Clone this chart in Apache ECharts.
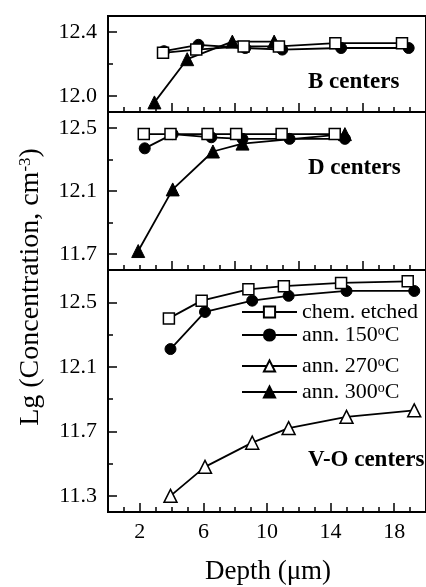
<!DOCTYPE html>
<html><head><meta charset="utf-8">
<script src="https://cdn.jsdelivr.net/npm/echarts@6/dist/echarts.min.js"></script>
<style>html,body{margin:0;padding:0;background:#fff}#c{width:426px;height:587px}</style>
</head><body><div id="c"></div>
<script>
// ---- data (depth in µm, Lg concentration) ----
const bChem   = [[3.46,12.27],[5.55,12.29],[8.53,12.31],[10.75,12.31],[14.3,12.33],[18.49,12.33]];
const b150    = [[3.52,12.28],[5.69,12.32],[8.63,12.30],[10.96,12.29],[14.66,12.30],[18.91,12.30]];
const b300    = [[2.92,11.96],[4.98,12.23],[7.82,12.34],[10.45,12.34]];
const dChem   = [[2.25,12.46],[3.93,12.46],[6.26,12.46],[8.06,12.46],[10.92,12.46],[14.26,12.46]];
const d150    = [[2.31,12.37],[4.07,12.46],[6.5,12.44],[8.46,12.43],[11.42,12.43],[14.9,12.43]];
const d300    = [[1.9,11.72],[4.07,12.11],[6.6,12.35],[8.46,12.40],[14.9,12.46]];
const voChem  = [[3.83,12.40],[5.89,12.51],[8.83,12.58],[11.06,12.60],[14.66,12.62],[18.85,12.63]];
const vo150   = [[3.93,12.21],[6.1,12.44],[9.07,12.51],[11.36,12.54],[15.0,12.57],[19.26,12.57]];
const vo270   = [[3.93,11.30],[6.1,11.48],[9.07,11.63],[11.36,11.72],[15.0,11.79],[19.26,11.83]];

const seriesNames = ['chem. etched','ann. 150oC','ann. 270oC','ann. 300oC'];
const panelNames = ['B centers','D centers','V-O centers'];
const yRanges = [[11.9,12.5],[11.6,12.6],[11.2,12.7]];
const yMajor = [[12.0,12.4],[11.7,12.1,12.5],[11.3,11.7,12.1,12.5]];
const yMinor = [[12.2],[11.9,12.3],[11.5,11.9,12.3]];
const xLabels = [2,6,10,14,18];
const xMajorUpper = [4,8,12,16];
const xRange = [0,20];

const FONT = '"Liberation Serif","Times New Roman",serif';
const chart = echarts.init(document.getElementById('c'));

const grids = [
  {left:108, right:-11, top:16, height:96},
  {left:108, right:-11, top:112, height:158},
  {left:108, right:-11, top:270, height:242}
].map(g => Object.assign(g, {show:true, borderColor:'#000', borderWidth:2, backgroundColor:'transparent'}));

const xAxes = [], yAxes = [];
for (let i = 0; i < 3; i++) {
  const bottom = i === 2;
  const majors = bottom ? xLabels : xMajorUpper;
  xAxes.push({type:'value', gridIndex:i, position:'bottom', min:xRange[0], max:xRange[1], interval:1,
    axisLine:{show:false}, splitLine:{show:false},
    axisTick:{inside:true, length:5, lineStyle:{color:'#000', width:1.5}},
    axisLabel:{show:false}});
  xAxes.push({type:'value', gridIndex:i, position:'bottom', min:xRange[0], max:xRange[1],
    axisLine:{show:false}, splitLine:{show:false},
    axisTick:{inside:true, length:9, customValues:majors, lineStyle:{color:'#000', width:1.5}},
    axisLabel:{show:bottom, customValues:xLabels, color:'#000', fontFamily:FONT, fontSize:22, margin:9}});
  yAxes.push({type:'value', gridIndex:i, position:'left', min:yRanges[i][0], max:yRanges[i][1],
    axisLine:{show:false}, splitLine:{show:false},
    axisTick:{inside:true, length:9, customValues:yMajor[i], lineStyle:{color:'#000', width:1.5}},
    axisLabel:{customValues:yMajor[i], color:'#000', fontFamily:FONT, fontSize:22, margin:11,
      formatter:v=>v.toFixed(1)}});
  yAxes.push({type:'value', gridIndex:i, position:'left', min:yRanges[i][0], max:yRanges[i][1],
    axisLine:{show:false}, splitLine:{show:false},
    axisTick:{inside:true, length:5, customValues:yMinor[i], lineStyle:{color:'#000', width:1.5}},
    axisLabel:{show:false}});
}

const styles = {
  'chem. etched': {symbol:'rect', symbolSize:11, itemStyle:{color:'#fff', borderColor:'#000', borderWidth:1.5}},
  'ann. 150oC': {symbol:'circle', symbolSize:11, itemStyle:{color:'#000', borderColor:'#000', borderWidth:1}},
  'ann. 270oC': {symbol:'triangle', symbolSize:13, itemStyle:{color:'#fff', borderColor:'#000', borderWidth:1.5}},
  'ann. 300oC': {symbol:'triangle', symbolSize:13, itemStyle:{color:'#000', borderColor:'#000', borderWidth:1}}
};
function mk(name, data, gi, z) {
  return Object.assign({type:'line', name, data, xAxisIndex:gi*2, yAxisIndex:gi*2,
    lineStyle:{color:'#000', width:1.8}, showAllSymbol:true, animation:false, z:z||2}, styles[name]);
}
const series = [
  mk('ann. 300oC', b300, 0), mk('ann. 150oC', b150, 0), mk('chem. etched', bChem, 0, 3),
  mk('ann. 300oC', d300, 1), mk('ann. 150oC', d150, 1), mk('chem. etched', dChem, 1, 3),
  mk('chem. etched', voChem, 2, 3), mk('ann. 150oC', vo150, 2), mk('ann. 270oC', vo270, 2)
];

const legendTops = [301, 324, 355, 381];
const rich = {
  t:{fontFamily:FONT, fontSize:22, color:'#000'},
  s:{fontFamily:FONT, fontSize:14, color:'#000', verticalAlign:'top', padding:[0,0,8,0]}
};
const legends = seriesNames.map((n, k) => ({
  data:[n], orient:'vertical', left:241, top:legendTops[k], itemWidth:55, itemHeight:14, itemGap:0,
  padding:0, selectedMode:false,
  textStyle:{rich},
  formatter: name => {
    const m = name.match(/^(.*)oC$/);
    return m ? '{t|' + m[1] + '}{s|o}{t|C}' : '{t|' + name + '}';
  }
}));

const labelY = [82, 168, 460];
const graphic = panelNames.map((p, k) => ({type:'text', x:308, y:labelY[k],
  style:{text:p, fontFamily:FONT, fontSize:23, fontWeight:'bold', fill:'#000', verticalAlign:'middle'}}));
graphic.push({type:'text', x:268, y:572,
  style:{text:'Depth (\u03bcm)', fontFamily:FONT, fontSize:27, fill:'#000', align:'center', verticalAlign:'middle'}});
graphic.push({type:'text', x:31, y:287, rotation:Math.PI/2,
  style:{text:'{a|Lg (Concentration, cm}{b|-3}{a|)}', align:'center', verticalAlign:'middle',
    rich:{a:{fontFamily:FONT, fontSize:28, fill:'#000'}, b:{fontFamily:FONT, fontSize:17, fill:'#000', verticalAlign:'top', padding:[0,0,11,0]}}}});

chart.setOption({animation:false, grid:grids, xAxis:xAxes, yAxis:yAxes, series, legend:legends, graphic});
</script></body></html>
